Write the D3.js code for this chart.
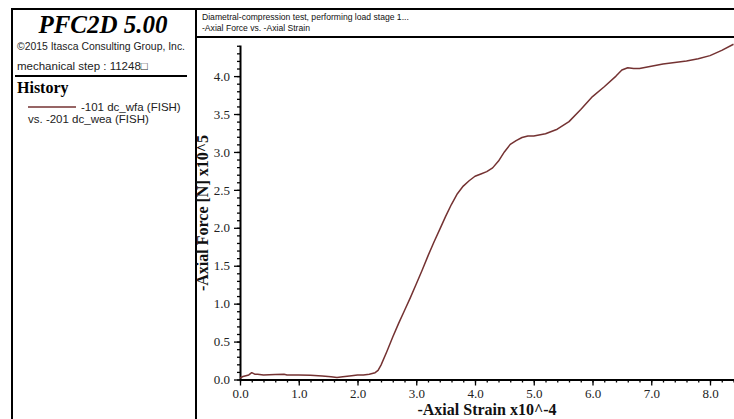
<!DOCTYPE html>
<html>
<head>
<meta charset="utf-8">
<script src="https://cdn.jsdelivr.net/npm/d3@7"></script>
<style>
  html, body { margin: 0; padding: 0; background: #fff; }
  svg { display: block; }
</style>
</head>
<body>
<svg id="chart" width="734" height="419"></svg>
<script>
// ---- data ----
const strain = [0, 0.05, 0.1, 0.15, 0.2, 0.25, 0.3, 0.4, 0.6, 0.75, 0.8, 0.9, 1.0, 1.2, 1.4, 1.55, 1.65, 1.75, 1.9, 2.0,
  2.1, 2.2, 2.3, 2.35, 2.4, 2.5, 2.6, 2.7, 2.8, 2.9, 3.0, 3.1, 3.2, 3.3, 3.4, 3.5, 3.6, 3.7, 3.8, 3.9,
  4.0, 4.1, 4.2, 4.3, 4.4, 4.5, 4.6, 4.7, 4.8, 4.9, 5.0, 5.2, 5.4, 5.6, 5.8, 6.0, 6.2, 6.4, 6.5, 6.6,
  6.7, 6.8, 7.0, 7.2, 7.4, 7.6, 7.8, 8.0, 8.2, 8.4];
const force = [0.02, 0.04, 0.05, 0.06, 0.09, 0.07, 0.07, 0.06, 0.065, 0.07, 0.06, 0.06, 0.06, 0.055, 0.045, 0.035, 0.025, 0.035, 0.05, 0.06,
  0.06, 0.07, 0.09, 0.12, 0.19, 0.37, 0.56, 0.74, 0.91, 1.08, 1.26, 1.44, 1.63, 1.81, 1.98, 2.15, 2.31, 2.45, 2.55, 2.62,
  2.68, 2.71, 2.74, 2.79, 2.88, 3.0, 3.1, 3.15, 3.19, 3.21, 3.21, 3.24, 3.3, 3.4, 3.56, 3.73, 3.86, 4.0, 4.08, 4.11,
  4.1, 4.1, 4.13, 4.16, 4.18, 4.2, 4.23, 4.27, 4.34, 4.42];
const xTickValues = [0, 1, 2, 3, 4, 5, 6, 7, 8];
const yTickValues = [0, 0.5, 1.0, 1.5, 2.0, 2.5, 3.0, 3.5, 4.0];
const xTitle = "-Axial Strain x10^-4";
const yTitle = "-Axial Force [N] x10^5";
const titleLines = ["Diametral-compression test, performing load stage 1...", "-Axial Force vs. -Axial Strain"];
const legendLines = ["-101 dc_wfa (FISH)", "vs. -201 dc_wea (FISH)"];

const lineColor = "#743232";
const svg = d3.select("#chart");

// ---- frame ----
const frame = svg.append("g").attr("stroke", "#000").attr("fill", "none");
frame.append("line").attr("x1", 11).attr("x2", 734).attr("y1", 9).attr("y2", 9).attr("stroke-width", 2);
frame.append("line").attr("x1", 12).attr("x2", 12).attr("y1", 8).attr("y2", 419).attr("stroke-width", 2);
frame.append("line").attr("x1", 196).attr("x2", 196).attr("y1", 8).attr("y2", 419).attr("stroke-width", 2);
frame.append("line").attr("x1", 196).attr("x2", 734).attr("y1", 37).attr("y2", 37).attr("stroke-width", 2);
frame.append("line").attr("x1", 15).attr("x2", 187).attr("y1", 76).attr("y2", 76).attr("stroke-width", 2);

// ---- left panel ----
svg.append("text").attr("x", 103).attr("y", 33).attr("text-anchor", "middle")
  .attr("font-family", "'Liberation Serif', 'Times New Roman', serif").attr("font-size", 25)
  .attr("font-weight", "bold").attr("font-style", "italic").attr("fill", "#000").text("PFC2D 5.00");
svg.append("text").attr("x", 17).attr("y", 50)
  .attr("font-family", "'Liberation Sans', Arial, sans-serif").attr("font-size", 11.5)
  .attr("textLength", 168).attr("lengthAdjust", "spacingAndGlyphs")
  .attr("fill", "#222").text("©2015 Itasca Consulting Group, Inc.");
svg.append("text").attr("x", 17).attr("y", 70)
  .attr("font-family", "'Liberation Sans', Arial, sans-serif").attr("font-size", 11.5)
  .attr("fill", "#222").text("mechanical step : 11248□");
svg.append("text").attr("x", 17).attr("y", 93)
  .attr("font-family", "'Liberation Serif', 'Times New Roman', serif").attr("font-size", 16)
  .attr("font-weight", "bold").attr("fill", "#000").text("History");
svg.append("line").attr("x1", 28).attr("x2", 76).attr("y1", 107).attr("y2", 107)
  .attr("stroke", lineColor).attr("stroke-width", 1.6);
svg.append("text").attr("x", 81).attr("y", 111)
  .attr("font-family", "'Liberation Sans', Arial, sans-serif").attr("font-size", 11.5)
  .attr("fill", "#222").text(legendLines[0]);
svg.append("text").attr("x", 28).attr("y", 123)
  .attr("font-family", "'Liberation Sans', Arial, sans-serif").attr("font-size", 11.5)
  .attr("fill", "#222").text(legendLines[1]);

// ---- title box ----
titleLines.forEach((t, i) => {
  svg.append("text").attr("x", 202).attr("y", 20 + i * 11)
    .attr("font-family", "'Liberation Sans', Arial, sans-serif").attr("font-size", 8.6)
    .attr("fill", "#111").text(t);
});

// ---- scales ----
const x = d3.scaleLinear().domain([0, 8.4]).range([240, 733.5]);
const y = d3.scaleLinear().domain([0, 4.41]).range([379.5, 45]);

const serif = "'Liberation Serif', 'Times New Roman', serif";

// minor ticks
const xMinor = d3.range(0, 8.41, 0.2);
const yMinor = d3.range(0, 4.41, 0.1);

svg.append("g").attr("transform", "translate(0,379.5)")
  .call(d3.axisBottom(x).tickValues(xMinor).tickSize(3).tickFormat(""))
  .call(g => g.select(".domain").remove());
const xMajor = svg.append("g").attr("transform", "translate(0,379.5)")
  .call(d3.axisBottom(x).tickValues(xTickValues).tickSize(6).tickSizeOuter(0).tickPadding(3)
    .tickFormat(d3.format(".1f")));
xMajor.select(".domain").attr("stroke-width", 2);
xMajor.selectAll("text").attr("font-family", serif).attr("font-size", 13).attr("fill", "#222");

svg.append("g").attr("transform", "translate(240,0)")
  .call(d3.axisLeft(y).tickValues(yMinor).tickSize(3).tickFormat(""))
  .call(g => g.select(".domain").remove());
const yMajor = svg.append("g").attr("transform", "translate(240,0)")
  .call(d3.axisLeft(y).tickValues(yTickValues).tickSize(6).tickSizeOuter(0).tickPadding(4)
    .tickFormat(d3.format(".1f")));
yMajor.select(".domain").attr("stroke-width", 2);
yMajor.selectAll("text").attr("font-family", serif).attr("font-size", 13).attr("fill", "#222");
svg.selectAll(".tick line").attr("stroke", "#000").attr("stroke-width", 1.3);

// axis titles
svg.append("text").attr("x", 487).attr("y", 415).attr("text-anchor", "middle")
  .attr("font-family", serif).attr("font-size", 16).attr("font-weight", "bold")
  .attr("fill", "#111").text(xTitle);
svg.append("text").attr("transform", "translate(208,213) rotate(-90)").attr("text-anchor", "middle")
  .attr("font-family", serif).attr("font-size", 16).attr("font-weight", "bold")
  .attr("fill", "#111").text(yTitle);

// ---- curve ----
const pts = strain.map((s, i) => [s, force[i]]);
svg.append("path").datum(pts)
  .attr("fill", "none").attr("stroke", lineColor).attr("stroke-width", 1.5)
  .attr("stroke-linejoin", "round")
  .attr("d", d3.line().x(d => x(d[0])).y(d => y(d[1])));
</script>
</body>
</html>
